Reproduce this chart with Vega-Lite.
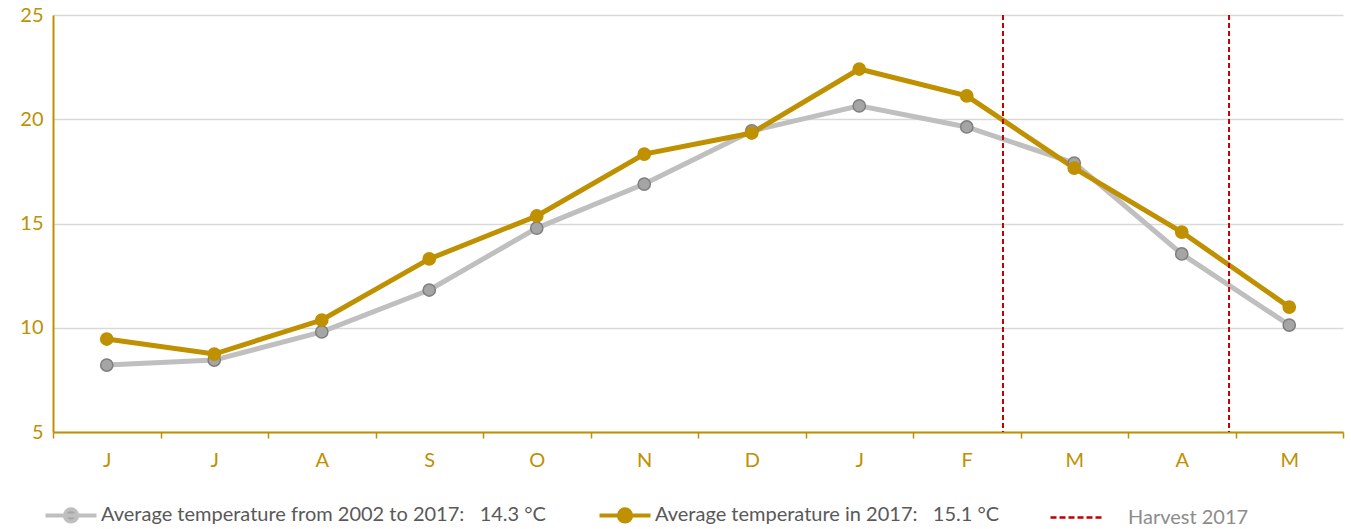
{
  "$schema": "https://vega.github.io/schema/vega-lite/v6.json",
  "width": 1290,
  "height": 417,
  "autosize": {"type": "none"},
  "padding": {"left": 53, "top": 15, "right": 8, "bottom": 97},
  "config": {"font": "Lato", "view": {"stroke": null}},
  "datasets": {
    "temps": [
      {"m": "J1", "series": "avg", "t": 8.21},
      {"m": "J2", "series": "avg", "t": 8.45},
      {"m": "A1", "series": "avg", "t": 9.80},
      {"m": "S", "series": "avg", "t": 11.81},
      {"m": "O", "series": "avg", "t": 14.78},
      {"m": "N", "series": "avg", "t": 16.89},
      {"m": "D", "series": "avg", "t": 19.44},
      {"m": "J3", "series": "avg", "t": 20.64},
      {"m": "F", "series": "avg", "t": 19.63},
      {"m": "M1", "series": "avg", "t": 17.90},
      {"m": "A2", "series": "avg", "t": 13.54},
      {"m": "M2", "series": "avg", "t": 10.13},
      {"m": "J1", "series": "y2017", "t": 9.46},
      {"m": "J2", "series": "y2017", "t": 8.74},
      {"m": "A1", "series": "y2017", "t": 10.37},
      {"m": "S", "series": "y2017", "t": 13.30},
      {"m": "O", "series": "y2017", "t": 15.36},
      {"m": "N", "series": "y2017", "t": 18.33},
      {"m": "D", "series": "y2017", "t": 19.34},
      {"m": "J3", "series": "y2017", "t": 22.41},
      {"m": "F", "series": "y2017", "t": 21.12},
      {"m": "M1", "series": "y2017", "t": 17.66},
      {"m": "A2", "series": "y2017", "t": 14.59},
      {"m": "M2", "series": "y2017", "t": 10.99}
    ],
    "harvest": [
      {"pos": 8.837, "series": "harvest"},
      {"pos": 10.94, "series": "harvest"}
    ]
  },
  "layer": [
    {
      "data": {"name": "temps"},
      "encoding": {
        "x": {
          "field": "m",
          "type": "ordinal",
          "scale": {"domain": ["J1","J2","A1","S","O","N","D","J3","F","M1","A2","M2"]},
          "axis": {
            "title": null,
            "labelExpr": "isValid(datum.value) ? substring(datum.value,0,1) : ''",
            "labelAngle": 0,
            "tickBand": "extent",
            "domainColor": "#BF9000",
            "domainWidth": 2,
            "tickColor": "#BF9000",
            "tickWidth": 1.5,
            "tickSize": 6,
            "labelColor": "#BF9000",
            "labelFontSize": 20,
            "labelPadding": 12,
            "grid": false
          }
        },
        "y": {
          "field": "t",
          "type": "quantitative",
          "scale": {"domain": [5, 25], "nice": false, "zero": false},
          "axis": {
            "title": null,
            "values": [5, 10, 15, 20, 25],
            "domainColor": "#BF9000",
            "domainWidth": 2,
            "ticks": false,
            "labelColor": "#BF9000",
            "labelFontSize": 20,
            "labelPadding": 10,
            "gridColor": "#D9D9D9",
            "gridWidth": 1.5
          }
        }
      },
      "layer": [
        {
          "mark": {"type": "line", "strokeWidth": 5},
          "encoding": {
            "color": {
              "field": "series",
              "type": "nominal",
              "scale": {"domain": ["avg", "y2017", "harvest"], "range": ["#BFBFBF", "#BF9000", "#C00000"]},
              "legend": {
                "title": null,
                "orient": "none",
                "legendX": 8,
                "legendY": 490,
                "direction": "horizontal",
                "columnPadding": 45,
                "labelFontSize": 20,
                "labelOffset": 5,
                "labelLimit": 0,
                "symbolSize": 2601,
                "labelExpr": "datum.value === 'avg' ? 'Average temperature from 2002 to 2017:\u00a0\u00a0\u00a014.3 °C' : datum.value === 'y2017' ? 'Average temperature in 2017:\u00a0\u00a0\u00a015.1 °C' : 'Harvest 2017'",
                "encode": {
                  "symbols": {
                    "update": {
                      "shape": {"signal": "datum.value === 'harvest' ? 'stroke' : 'M-1,0L1,0M-0.24,0A0.24,0.24,0,1,1,0.24,0A0.24,0.24,0,1,1,-0.24,0Z'"},
                      "fill": {"signal": "datum.value === 'avg' ? '#A5A5A5' : datum.value === 'y2017' ? '#BF9000' : 'transparent'"},
                      "stroke": {"signal": "datum.value === 'avg' ? '#BFBFBF' : datum.value === 'y2017' ? '#BF9000' : '#C00000'"},
                      "strokeDash": {"signal": "datum.value === 'harvest' ? [6, 3] : []"},
                      "strokeWidth": {"signal": "datum.value === 'harvest' ? 2.5 : 4"},
                      "opacity": {"value": 1}
                    }
                  },
                  "labels": {
                    "update": {
                      "fill": {"signal": "datum.value === 'harvest' ? '#8C8C8C' : '#595959'"},
                      "dx": {"signal": "datum.value === 'harvest' ? 37 : 15"}
                    }
                  }
                }
              }
            }
          }
        },
        {
          "mark": {"type": "point", "filled": true, "size": 150, "strokeWidth": 1.5, "opacity": 1},
          "encoding": {
            "fill": {
              "field": "series",
              "type": "nominal",
              "scale": {"domain": ["avg", "y2017"], "range": ["#A5A5A5", "#BF9000"]},
              "legend": null
            },
            "stroke": {
              "field": "series",
              "type": "nominal",
              "scale": {"domain": ["avg", "y2017"], "range": ["#7F7F7F", "#BF9000"]},
              "legend": null
            }
          }
        }
      ]
    },
    {
      "data": {"name": "harvest"},
      "mark": {"type": "rule", "strokeDash": [5, 3], "strokeWidth": 2},
      "encoding": {
        "x": {"field": "pos", "type": "quantitative", "scale": {"domain": [0, 12], "nice": false, "zero": false}, "axis": null},
        "color": {"field": "series", "type": "nominal"}
      }
    }
  ],
  "resolve": {"scale": {"x": "independent"}}
}
